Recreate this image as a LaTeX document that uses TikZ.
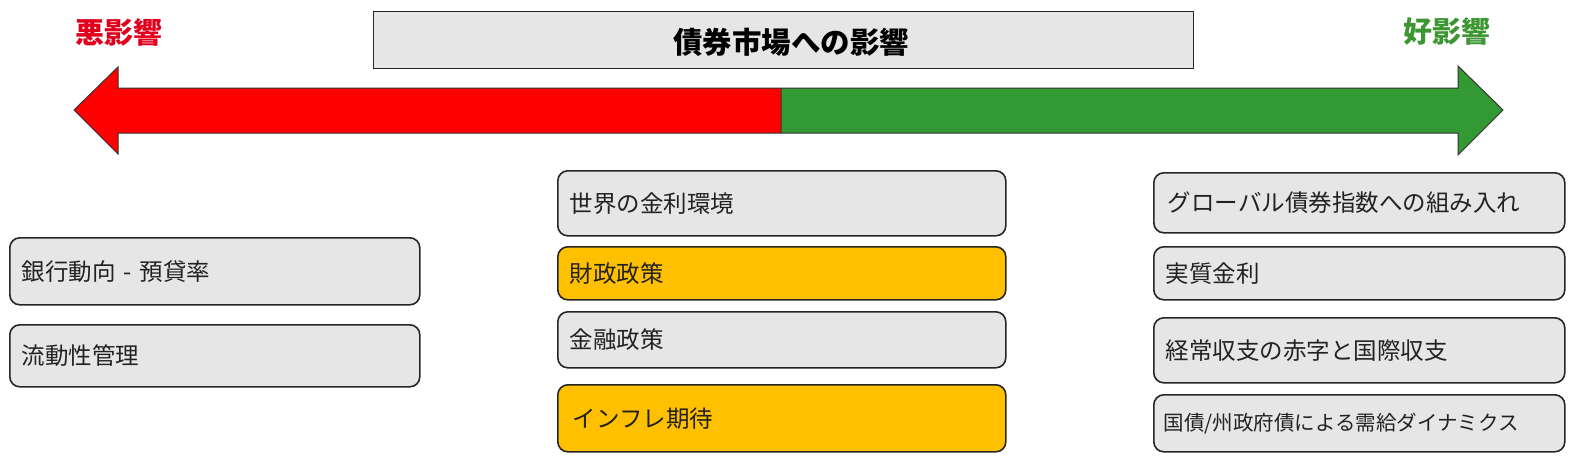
\documentclass[tikz,border=0pt]{standalone}
\usepackage{fontspec}
\newfontfamily\jp{Noto Sans CJK JP}
\definecolor{arrred}{RGB}{255,0,0}
\definecolor{arrgreen}{RGB}{51,153,51}
\definecolor{badred}{RGB}{224,0,30}
\definecolor{goodgreen}{RGB}{60,150,50}
\definecolor{boxgray}{RGB}{230,230,230}
\definecolor{boxorange}{RGB}{255,192,0}
\definecolor{txtgray}{RGB}{34,34,34}
\tikzset{
  itembox/.style={draw=black!85, line width=1.6pt, rounded corners=10pt,
    fill=boxgray, anchor=north west, align=left, inner xsep=12pt, inner ysep=0pt,
    text=txtgray, font=\jp\fontsize{23.5}{28}\selectfont},
  orangebox/.style={itembox, fill=boxorange},
  arrowshape/.style={draw=black!80, line width=1pt, line join=miter},
  sidelabel/.style={font=\jp\bfseries\fontsize{29}{34}\selectfont, inner sep=0pt}
}
\begin{document}
\begin{tikzpicture}[x=1pt,y=-1pt]
\useasboundingbox (0,0) rectangle (1574,464);
% arrows
\fill[arrred] (781,88) -- (118,88) -- (118,67) -- (74,110) -- (118,154) -- (118,133) -- (781,133) -- cycle;
\draw[arrowshape] (781,88) -- (118,88) -- (118,67) -- (74,110) -- (118,154) -- (118,133) -- (781,133);
\fill[arrgreen] (781,88) -- (1458,88) -- (1458,66) -- (1503,110) -- (1458,155) -- (1458,133) -- (781,133) -- cycle;
\draw[arrowshape] (781,88) -- (1458,88) -- (1458,66) -- (1503,110) -- (1458,155) -- (1458,133) -- (781,133) -- cycle;
% title
\node[draw=black!85, line width=1.4pt, fill=boxgray, anchor=north west,
  minimum width=820pt, minimum height=57pt, inner sep=0pt] (titlebox) at (373,11) {};
\node[font=\jp\bfseries\fontsize{29.5}{34}\selectfont, inner sep=0pt] (title) at (791,42) {債券市場への影響};
% side labels
\node[sidelabel, text=badred] (bad) at (118.5,32) {悪影響};
\node[sidelabel, text=goodgreen] (good) at (1446.5,32) {好影響};
% left column
\node[itembox, minimum width=410pt, minimum height=67pt, text width=386pt, inner xsep=10pt] (l1) at (9,237) {銀行動向 - 預貸率};
\node[itembox, minimum width=410pt, minimum height=62pt, text width=386pt, inner xsep=10pt] (l2) at (9,324) {流動性管理};
% middle column
\node[itembox, minimum width=448pt, minimum height=65pt, text width=424pt] (m1) at (557,170) {世界の金利環境};
\node[orangebox, minimum width=448pt, minimum height=53pt, text width=424pt, inner xsep=10pt] (m2) at (557,246) {財政政策};
\node[itembox, minimum width=448pt, minimum height=56pt, text width=424pt] (m3) at (557,311) {金融政策};
\node[orangebox, minimum width=448pt, minimum height=67pt, text width=418pt, inner xsep=14pt] (m4) at (557,384) {インフレ期待};
% right column
\node[itembox, minimum width=411pt, minimum height=60pt, text width=383pt, inner xsep=14pt] (r1) at (1153,172) {グローバル債券指数への組み入れ};
\node[itembox, minimum width=411pt, minimum height=53pt, text width=387pt] (r2) at (1153,246) {実質金利};
\node[itembox, minimum width=411pt, minimum height=65pt, text width=387pt] (r3) at (1153,317) {経常収支の赤字と国際収支};
\node[itembox, minimum width=411pt, minimum height=57pt, text width=391pt, inner xsep=10pt, font=\jp\fontsize{20.5}{24}\selectfont] (r4) at (1153,394) {国債/州政府債による需給ダイナミクス};
\end{tikzpicture}
\end{document}
